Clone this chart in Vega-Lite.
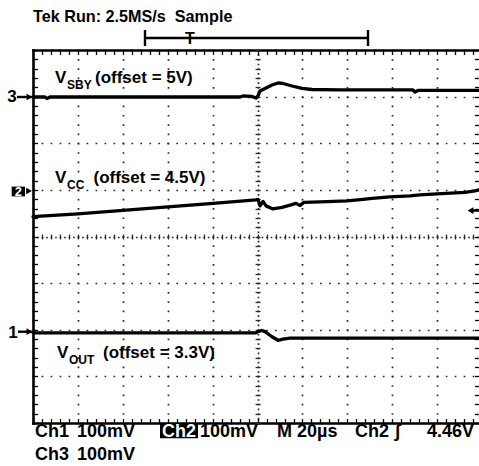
{
  "$schema": "https://vega.github.io/schema/vega-lite/v6.json",
  "width": 446,
  "height": 373,
  "autosize": {"type": "none"},
  "padding": {"left": 33, "top": 50, "right": 0, "bottom": 43},
  "background": "white",
  "config": {"view": {"stroke": null}},
  "resolve": {"axis": {"x": "independent", "y": "independent"}},
  "datasets": {
    "traces": [
      {"ch": "3", "t": -100, "d": 2.992}, {"ch": "3", "t": -94.66, "d": 2.992}, {"ch": "3", "t": -93.77, "d": 2.96}, {"ch": "3", "t": -92.43, "d": 2.992},
      {"ch": "3", "t": -7.82, "d": 2.992}, {"ch": "3", "t": -6.49, "d": 3.014}, {"ch": "3", "t": -2.48, "d": 3.003}, {"ch": "3", "t": -0.7, "d": 2.97},
      {"ch": "3", "t": 0.19, "d": 3.014}, {"ch": "3", "t": 1.08, "d": 3.121}, {"ch": "3", "t": 3.75, "d": 3.186}, {"ch": "3", "t": 6.43, "d": 3.25},
      {"ch": "3", "t": 9.1, "d": 3.292}, {"ch": "3", "t": 11.32, "d": 3.282}, {"ch": "3", "t": 15.33, "d": 3.228}, {"ch": "3", "t": 19.78, "d": 3.175},
      {"ch": "3", "t": 24.24, "d": 3.153}, {"ch": "3", "t": 36.7, "d": 3.143}, {"ch": "3", "t": 69.2, "d": 3.143}, {"ch": "3", "t": 70.1, "d": 3.1},
      {"ch": "3", "t": 71.44, "d": 3.132}, {"ch": "3", "t": 98.6, "d": 3.132},
      {"ch": "2", "t": -100, "d": 0.427}, {"ch": "2", "t": -79.96, "d": 0.485}, {"ch": "2", "t": -59.92, "d": 0.56}, {"ch": "2", "t": -39.88, "d": 0.635},
      {"ch": "2", "t": -19.85, "d": 0.71}, {"ch": "2", "t": -0.7, "d": 0.785}, {"ch": "2", "t": 0.19, "d": 0.796}, {"ch": "2", "t": 1.08, "d": 0.657},
      {"ch": "2", "t": 2.42, "d": 0.753}, {"ch": "2", "t": 3.75, "d": 0.657}, {"ch": "2", "t": 6.87, "d": 0.592}, {"ch": "2", "t": 10.88, "d": 0.625},
      {"ch": "2", "t": 14.89, "d": 0.678}, {"ch": "2", "t": 17.11, "d": 0.71}, {"ch": "2", "t": 18.89, "d": 0.667}, {"ch": "2", "t": 20.67, "d": 0.732},
      {"ch": "2", "t": 27.8, "d": 0.742}, {"ch": "2", "t": 39.82, "d": 0.764}, {"ch": "2", "t": 46.95, "d": 0.796}, {"ch": "2", "t": 50.96, "d": 0.817},
      {"ch": "2", "t": 58.97, "d": 0.85}, {"ch": "2", "t": 67.88, "d": 0.871}, {"ch": "2", "t": 72.33, "d": 0.892}, {"ch": "2", "t": 79.9, "d": 0.914},
      {"ch": "2", "t": 92.37, "d": 0.946}, {"ch": "2", "t": 96.82, "d": 0.978}, {"ch": "2", "t": 98.6, "d": 1.0},
      {"ch": "1", "t": -100, "d": -2.065}, {"ch": "1", "t": -0.7, "d": -2.065}, {"ch": "1", "t": 0.19, "d": -2.04}, {"ch": "1", "t": 1.97, "d": -2.015},
      {"ch": "1", "t": 3.31, "d": -2.04}, {"ch": "1", "t": 6.43, "d": -2.15}, {"ch": "1", "t": 9.1, "d": -2.226}, {"ch": "1", "t": 11.32, "d": -2.2},
      {"ch": "1", "t": 14.44, "d": -2.179}, {"ch": "1", "t": 98.6, "d": -2.179}
    ],
    "rules": [
      {"x1": -50.13, "x2": 49.17, "y1": 4.257, "y2": 4.257},
      {"x1": -50.13, "x2": -50.13, "y1": 4.086, "y2": 4.429},
      {"x1": 49.17, "x2": 49.17, "y1": 4.086, "y2": 4.429},
      {"x1": -107.12, "x2": -100.5, "y1": 2.992, "y2": 2.992},
      {"x1": -106.7, "x2": -100.5, "y1": -2.042, "y2": -2.042},
      {"x1": 95.04, "x2": 98.6, "y1": 0.556, "y2": 0.556}
    ],
    "arrowsRight": [
      {"t": -101.56, "d": 2.992}, {"t": -101.78, "d": 0.976}, {"t": -101.56, "d": -2.042}
    ],
    "arrowsLeft": [{"t": 94.82, "d": 0.556}],
    "boxes": [
      {"x1": -109.5, "x2": -103.56, "y1": 0.86, "y2": 1.07},
      {"x1": -43.45, "x2": -26.53, "y1": -4.007, "y2": -4.328}
    ],
    "title": [{"txt": "Tek Run: 2.5MS/s\u00a0 Sample", "t": -100, "d": 4.607}],
    "trig": [{"txt": "T", "t": -30.09, "d": 4.118}],
    "labels": [
      {"txt": "V", "t": -90.2, "d": 3.292}, {"txt": "(offset = 5V)", "t": -72.39, "d": 3.292},
      {"txt": "V", "t": -90.2, "d": 1.141}, {"txt": "(offset = 4.5V)", "t": -73.06, "d": 1.141},
      {"txt": "V", "t": -89.31, "d": -2.612}, {"txt": "(offset = 3.3V)", "t": -68.83, "d": -2.612},
      {"txt": "3", "t": -111.44, "d": 2.891}, {"txt": "1", "t": -111.0, "d": -2.183}
    ],
    "subs": [
      {"txt": "SBY", "t": -84.86, "d": 3.164},
      {"txt": "CC", "t": -84.86, "d": 1.019},
      {"txt": "OUT", "t": -83.97, "d": -2.724}
    ],
    "bottom": [
      {"txt": "Ch1", "t": -99.11, "d": -4.29}, {"txt": "100mV", "t": -80.41, "d": -4.29},
      {"txt": "100mV", "t": -25.64, "d": -4.29}, {"txt": "M 20µs", "t": 8.65, "d": -4.29},
      {"txt": "Ch2", "t": 43.38, "d": -4.29}, {"txt": "∫", "t": 61.2, "d": -4.29},
      {"txt": "4.46V", "t": 75.44, "d": -4.29},
      {"txt": "Ch3", "t": -99.11, "d": -4.804}, {"txt": "100mV", "t": -80.41, "d": -4.804}
    ],
    "whiteBig": [{"txt": "Ch2", "t": -42.56, "d": -4.29}],
    "whiteSmall": [{"txt": "2", "t": -106.55, "d": 0.875}]
  },
  "layer": [
    {
      "data": {"name": "traces"},
      "mark": {"type": "line", "color": "black", "strokeWidth": 3.3, "strokeJoin": "round", "strokeCap": "round"},
      "encoding": {
        "x": {"field": "t", "type": "quantitative", "scale": {"domain": [-100, 98.6], "nice": false, "zero": false},
          "axis": {"orient": "bottom", "title": null, "labels": false, "domain": true, "domainColor": "black", "domainWidth": 2.6, "domainCap": "square",
            "values": [-100,-96,-92,-88,-84,-80,-76,-72,-68,-64,-60,-56,-52,-48,-44,-40,-36,-32,-28,-24,-20,-16,-12,-8,-4,0,4,8,12,16,20,24,28,32,36,40,44,48,52,56,60,64,68,72,76,80,84,88,92,96],
            "ticks": true, "tickSize": -4.5, "tickColor": "black", "tickWidth": 1.3,
            "grid": true, "gridColor": "#2a2a2a", "gridWidth": 1.7,
            "gridOpacity": {"condition": {"test": "datum.value % 20 === 0", "value": 1}, "value": 0},
            "gridDash": {"condition": {"test": "datum.value === 0", "value": [1.7, 2.96]}, "value": [1.7, 7.62]},
            "gridDashOffset": 0.85}},
        "y": {"field": "d", "type": "quantitative", "scale": {"domain": [-4, 4], "nice": false, "zero": false},
          "axis": {"orient": "left", "title": null, "labels": false, "domain": true, "domainColor": "black", "domainWidth": 2.6, "domainCap": "square",
            "values": [-4,-3.8,-3.6,-3.4,-3.2,-3,-2.8,-2.6,-2.4,-2.2,-2,-1.8,-1.6,-1.4,-1.2,-1,-0.8,-0.6,-0.4,-0.2,0,0.2,0.4,0.6,0.8,1,1.2,1.4,1.6,1.8,2,2.2,2.4,2.6,2.8,3,3.2,3.4,3.6,3.8,4],
            "ticks": true, "tickSize": -4.5, "tickColor": "black", "tickWidth": 1.3,
            "grid": true, "gridColor": "#2a2a2a", "gridWidth": 1.7,
            "gridOpacity": {"condition": {"test": "abs(datum.value - round(datum.value)) < 0.01", "value": 1}, "value": 0},
            "gridDash": {"condition": {"test": "abs(datum.value) < 0.01", "value": [1.7, 2.79]}, "value": [1.7, 7.28]},
            "gridDashOffset": 0.85}},
        "detail": {"field": "ch", "type": "nominal"}
      }
    },
    {
      "data": {"name": "rules"},
      "mark": {"type": "rule", "color": "black", "strokeWidth": 2.4},
      "encoding": {
        "x": {"field": "x1", "type": "quantitative", "scale": {"domain": [-100, 98.6], "nice": false, "zero": false},
          "axis": {"orient": "top", "title": null, "labels": false, "grid": false, "domain": true, "domainColor": "black", "domainWidth": 2.6, "domainCap": "square",
            "values": [-100,-96,-92,-88,-84,-80,-76,-72,-68,-64,-60,-56,-52,-48,-44,-40,-36,-32,-28,-24,-20,-16,-12,-8,-4,0,4,8,12,16,20,24,28,32,36,40,44,48,52,56,60,64,68,72,76,80,84,88,92,96],
            "ticks": true, "tickSize": -4.5, "tickColor": "black", "tickWidth": 1.3}},
        "x2": {"field": "x2"},
        "y": {"field": "y1", "type": "quantitative", "scale": {"domain": [-4, 4], "nice": false, "zero": false},
          "axis": {"orient": "right", "title": null, "labels": false, "grid": false, "domain": false,
            "values": [-4,-3.8,-3.6,-3.4,-3.2,-3,-2.8,-2.6,-2.4,-2.2,-2,-1.8,-1.6,-1.4,-1.2,-1,-0.8,-0.6,-0.4,-0.2,0,0.2,0.4,0.6,0.8,1,1.2,1.4,1.6,1.8,2,2.2,2.4,2.6,2.8,3,3.2,3.4,3.6,3.8,4],
            "ticks": true, "tickSize": -4.5, "tickColor": "black", "tickWidth": 1.3}},
        "y2": {"field": "y2"}
      }
    },
    {
      "data": {"name": "arrowsRight"},
      "mark": {"type": "point", "shape": "triangle-right", "filled": true, "size": 45, "color": "black", "opacity": 1},
      "encoding": {
        "x": {"field": "t", "type": "quantitative", "scale": {"domain": [-100, 98.6], "nice": false, "zero": false},
          "axis": {"orient": "bottom", "offset": -189, "title": null, "labels": false, "grid": false, "domain": false,
            "values": [-100,-96,-92,-88,-84,-80,-76,-72,-68,-64,-60,-56,-52,-48,-44,-40,-36,-32,-28,-24,-20,-16,-12,-8,-4,0,4,8,12,16,20,24,28,32,36,40,44,48,52,56,60,64,68,72,76,80,84,88,92,96],
            "ticks": true, "tickSize": 5, "tickColor": "#2a2a2a", "tickWidth": 1.3}},
        "y": {"field": "d", "type": "quantitative", "scale": {"domain": [-4, 4], "nice": false, "zero": false},
          "axis": {"orient": "left", "offset": -227.07, "title": null, "labels": false, "grid": false, "domain": false,
            "values": [-4,-3.8,-3.6,-3.4,-3.2,-3,-2.8,-2.6,-2.4,-2.2,-2,-1.8,-1.6,-1.4,-1.2,-1,-0.8,-0.6,-0.4,-0.2,0,0.2,0.4,0.6,0.8,1,1.2,1.4,1.6,1.8,2,2.2,2.4,2.6,2.8,3,3.2,3.4,3.6,3.8,4],
            "ticks": true, "tickSize": 5, "tickColor": "#2a2a2a", "tickWidth": 1.3}}
      }
    },
    {
      "data": {"name": "arrowsLeft"},
      "mark": {"type": "point", "shape": "triangle-left", "filled": true, "size": 45, "color": "black", "opacity": 1},
      "encoding": {
        "x": {"field": "t", "type": "quantitative", "scale": {"domain": [-100, 98.6], "nice": false, "zero": false}, "axis": null},
        "y": {"field": "d", "type": "quantitative", "scale": {"domain": [-4, 4], "nice": false, "zero": false}, "axis": null}
      }
    },
    {
      "data": {"name": "boxes"},
      "mark": {"type": "rect", "color": "black"},
      "encoding": {
        "x": {"field": "x1", "type": "quantitative", "scale": {"domain": [-100, 98.6], "nice": false, "zero": false}, "axis": null},
        "x2": {"field": "x2"},
        "y": {"field": "y1", "type": "quantitative", "scale": {"domain": [-4, 4], "nice": false, "zero": false}, "axis": null},
        "y2": {"field": "y2"}
      }
    },
    {
      "data": {"name": "title"},
      "mark": {"type": "text", "align": "left", "baseline": "alphabetic", "font": "Liberation Sans", "fontWeight": "bold", "fontSize": 16.2, "fill": "black"},
      "encoding": {
        "x": {"field": "t", "type": "quantitative", "scale": {"domain": [-100, 98.6], "nice": false, "zero": false}, "axis": null},
        "y": {"field": "d", "type": "quantitative", "scale": {"domain": [-4, 4], "nice": false, "zero": false}, "axis": null},
        "text": {"field": "txt"}
      }
    },
    {
      "data": {"name": "trig"},
      "mark": {"type": "text", "align": "center", "baseline": "alphabetic", "font": "Liberation Sans", "fontWeight": "bold", "fontSize": 16, "fill": "black"},
      "encoding": {
        "x": {"field": "t", "type": "quantitative", "scale": {"domain": [-100, 98.6], "nice": false, "zero": false}, "axis": null},
        "y": {"field": "d", "type": "quantitative", "scale": {"domain": [-4, 4], "nice": false, "zero": false}, "axis": null},
        "text": {"field": "txt"}
      }
    },
    {
      "data": {"name": "labels"},
      "mark": {"type": "text", "align": "left", "baseline": "alphabetic", "font": "Liberation Sans", "fontWeight": "bold", "fontSize": 17, "fill": "black"},
      "encoding": {
        "x": {"field": "t", "type": "quantitative", "scale": {"domain": [-100, 98.6], "nice": false, "zero": false}, "axis": null},
        "y": {"field": "d", "type": "quantitative", "scale": {"domain": [-4, 4], "nice": false, "zero": false}, "axis": null},
        "text": {"field": "txt"}
      }
    },
    {
      "data": {"name": "subs"},
      "mark": {"type": "text", "align": "left", "baseline": "alphabetic", "font": "Liberation Sans", "fontWeight": "bold", "fontSize": 12, "fill": "black"},
      "encoding": {
        "x": {"field": "t", "type": "quantitative", "scale": {"domain": [-100, 98.6], "nice": false, "zero": false}, "axis": null},
        "y": {"field": "d", "type": "quantitative", "scale": {"domain": [-4, 4], "nice": false, "zero": false}, "axis": null},
        "text": {"field": "txt"}
      }
    },
    {
      "data": {"name": "bottom"},
      "mark": {"type": "text", "align": "left", "baseline": "alphabetic", "font": "Liberation Sans", "fontWeight": "bold", "fontSize": 18, "fill": "black"},
      "encoding": {
        "x": {"field": "t", "type": "quantitative", "scale": {"domain": [-100, 98.6], "nice": false, "zero": false}, "axis": null},
        "y": {"field": "d", "type": "quantitative", "scale": {"domain": [-4, 4], "nice": false, "zero": false}, "axis": null},
        "text": {"field": "txt"}
      }
    },
    {
      "data": {"name": "whiteBig"},
      "mark": {"type": "text", "align": "left", "baseline": "alphabetic", "font": "Liberation Sans", "fontWeight": "bold", "fontSize": 18, "fill": "white"},
      "encoding": {
        "x": {"field": "t", "type": "quantitative", "scale": {"domain": [-100, 98.6], "nice": false, "zero": false}, "axis": null},
        "y": {"field": "d", "type": "quantitative", "scale": {"domain": [-4, 4], "nice": false, "zero": false}, "axis": null},
        "text": {"field": "txt"}
      }
    },
    {
      "data": {"name": "whiteSmall"},
      "mark": {"type": "text", "align": "center", "baseline": "alphabetic", "font": "Liberation Sans", "fontWeight": "bold", "fontSize": 13, "fill": "white"},
      "encoding": {
        "x": {"field": "t", "type": "quantitative", "scale": {"domain": [-100, 98.6], "nice": false, "zero": false}, "axis": null},
        "y": {"field": "d", "type": "quantitative", "scale": {"domain": [-4, 4], "nice": false, "zero": false}, "axis": null},
        "text": {"field": "txt"}
      }
    }
  ]
}
